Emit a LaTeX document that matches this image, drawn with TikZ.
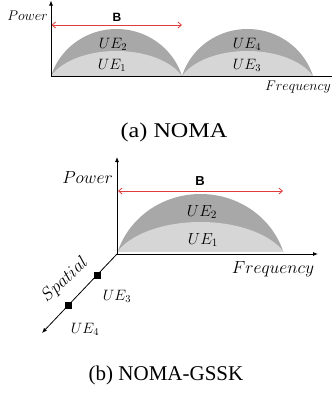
\RequirePackage{fix-cm}
\documentclass[tikz,border=0pt]{standalone}
\usepackage{fontspec}
\setmainfont{Liberation Serif}
\newfontfamily\sansb{Liberation Sans}
\usetikzlibrary{arrows.meta}
\definecolor{outerg}{HTML}{A8A8A8}
\definecolor{innerg}{HTML}{D6D6D6}
\definecolor{bred}{HTML}{E03C3C}
\tikzset{
  axis/.style={line width=0.8pt, black},
  axarr/.style={axis, -{Latex[length=5pt,width=4pt]}},
  band/.style={line width=0.8pt, bred, {Straight Barb[length=3.5pt,width=6pt]}-{Straight Barb[length=3.5pt,width=6pt]}},
  lbl/.style={inner sep=0pt, anchor=center},
  outerlobe/.style={fill=outerg},
  innerlobe/.style={fill=innerg},
  captext/.style={inner sep=0pt, font=\fontsize{21}{24}\selectfont},
  bfnt/.style={inner sep=0pt, font=\sansb\bfseries\fontsize{12}{14}\selectfont},
  sq/.style={fill=black, minimum size=7pt, inner sep=0pt},
  fa/.style={lbl, font=\fontsize{14}{16}\selectfont},
  fb/.style={lbl, font=\fontsize{17.5}{20}\selectfont},
  fu/.style={lbl, font=\fontsize{15}{17}\selectfont},
  fub/.style={lbl, font=\fontsize{16}{18}\selectfont},
  fsp/.style={lbl, font=\fontsize{18}{20}\selectfont},
}
\begin{document}
\begin{tikzpicture}[x=1pt,y=-1pt]
\useasboundingbox (0,0) rectangle (332,394);

% ---------- (a) NOMA ----------
\coordinate (oa) at (51,76);
\coordinate (ya) at (51,0.5);
\coordinate (xa) at (332,76);
\begin{scope}
  \clip (51,0) rectangle (332,76);
  \fill[outerlobe] (116.5,96) ellipse [x radius=68.6pt, y radius=67pt];
  \fill[innerlobe] (116.5,91) ellipse [x radius=70.7pt, y radius=40pt];
  \fill[outerlobe] (247.5,96) ellipse [x radius=68.6pt, y radius=67pt];
  \fill[innerlobe] (247.5,91) ellipse [x radius=70.7pt, y radius=40pt];
\end{scope}
\draw[axarr] (oa) -- (ya);
\draw[axis] (oa) -- (xa);
\coordinate (ba1) at (51.5,25);
\coordinate (ba2) at (182,25);
\draw[band] (ba1) -- (ba2);
\node[bfnt] (Ba) at (117,17) {B};
\node[fa, anchor=east] (pa) at (48,16) {$Power$};
\node[fa, anchor=east] (fa) at (331,87) {$Frequency$};
\node[fu] (ua2) at (113,44) {$UE_2$};
\node[fu] (ua1) at (112,65) {$UE_1$};
\node[fu] (ua4) at (247,44) {$UE_4$};
\node[fu] (ua3) at (247,65) {$UE_3$};
\node[captext] (capa) at (174,132) {\scalebox{1.15}[1]{(a) NOMA}};

% ---------- (b) NOMA-GSSK ----------
\coordinate (ob) at (117,254);
\coordinate (yb) at (117,157);
\coordinate (xb) at (318,254);
\coordinate (zb) at (42,333);
\begin{scope}
  \clip (118,100) rectangle (332,251);
  \fill[outerlobe] (200.5,276) ellipse [x radius=86.6pt, y radius=82pt];
  \fill[innerlobe] (200.5,269) ellipse [x radius=89.3pt, y radius=47pt];
\end{scope}
\draw[axarr] (ob) -- (yb);
\draw[axarr] (ob) -- (xb);
\draw[axarr] (ob) -- (zb);
\coordinate (bb1) at (118,191);
\coordinate (bb2) at (283,191);
\draw[band] (bb1) -- (bb2);
\node[bfnt, font=\sansb\bfseries\fontsize{13}{15}\selectfont] (Bb) at (200,181) {B};
\node[fb, anchor=east] (pb) at (113,178) {$Power$};
\node[fb] (fb) at (273,269) {$Frequency$};
\node[fub] (ub2) at (202,212) {$UE_2$};
\node[fub] (ub1) at (203,240) {$UE_1$};
\node[sq] (s3) at (97,275) {};
\node[sq] (s4) at (68,305) {};
\node[fu] (ub3) at (117,296) {$UE_3$};
\node[fu] (ub4) at (85,329) {$UE_4$};
\node[fsp, rotate=43] (sp) at (65,280) {$Spatial$};
\node[captext] (capb) at (166,375) {(b) NOMA-GSSK};
\end{tikzpicture}
\end{document}
